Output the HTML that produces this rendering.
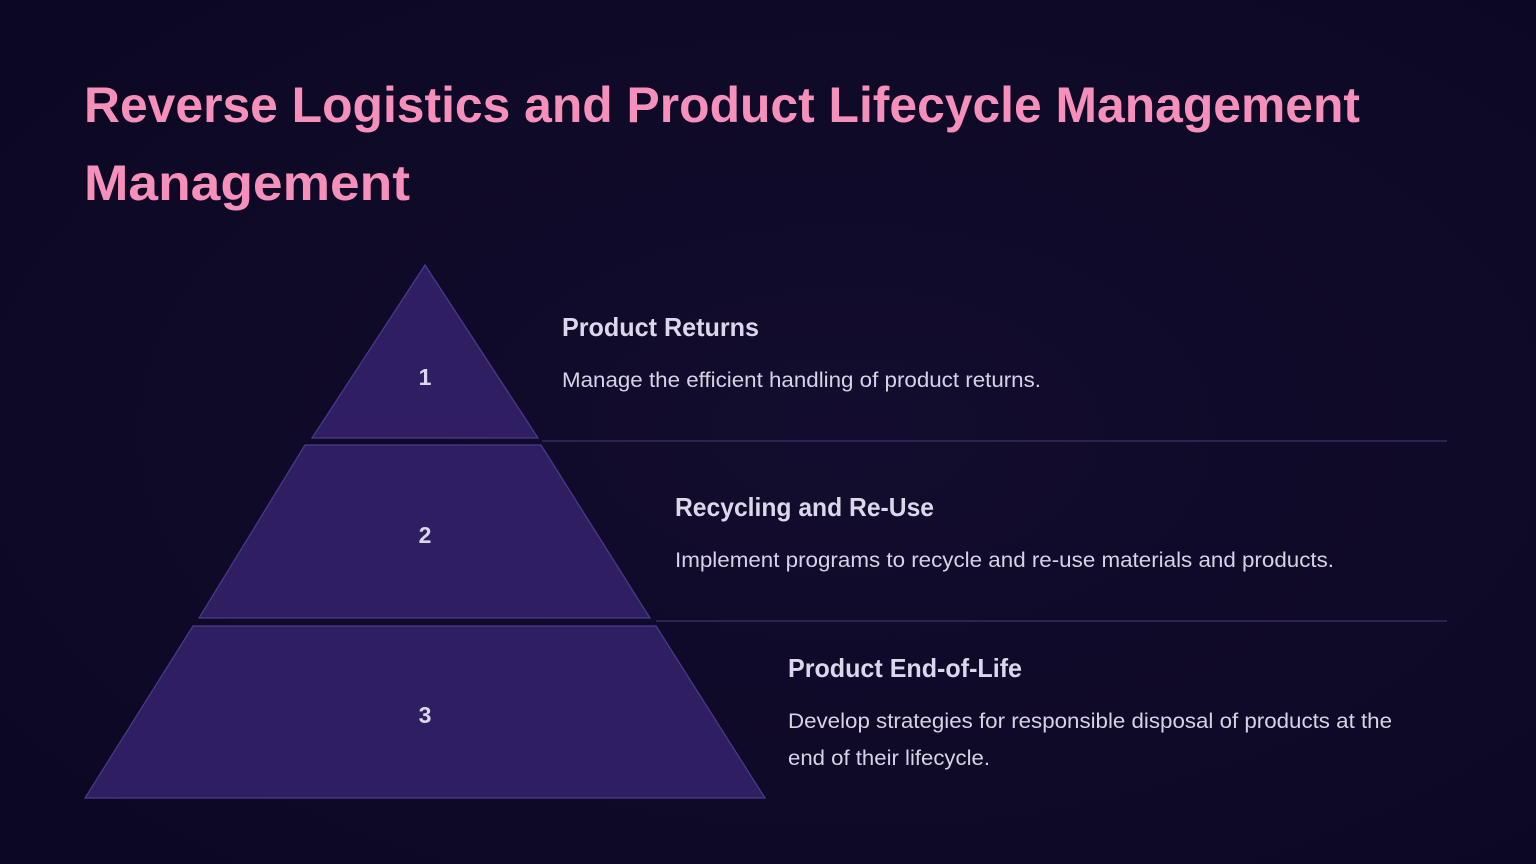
<!DOCTYPE html>
<html><head><meta charset="utf-8"><style>
html,body{margin:0;padding:0;background:#0e0a26;}
svg{display:block}
</style></head><body>
<svg width="1536" height="864" viewBox="0 0 1536 864" xmlns="http://www.w3.org/2000/svg">
<defs><radialGradient id="g" cx="0.55" cy="0.5" r="0.7"><stop offset="0" stop-color="#130c2e"/><stop offset="1" stop-color="#0c0823"/></radialGradient></defs>
<rect width="1536" height="864" fill="url(#g)"/>
<g font-family="Liberation Sans, sans-serif" font-weight="bold" fill="#f78fbb" font-size="50">
<text x="84" y="122" textLength="1276" lengthAdjust="spacingAndGlyphs">Reverse Logistics and Product Lifecycle Management</text>
<text x="84" y="200" textLength="326" lengthAdjust="spacingAndGlyphs">Management</text>
</g>
<g fill="#2f1f62" stroke="#4b3b8c" stroke-width="1.2">
<polygon points="425,265 538,438 312,438"/>
<polygon points="305,445 541,445 650,618 199,618"/>
<polygon points="193,626 656,626 765,798 85,798"/>
</g>
<g stroke="#3d3170" stroke-width="1.2">
<line x1="542" y1="441" x2="1447" y2="441"/>
<line x1="656" y1="621" x2="1447" y2="621"/>
</g>
<g font-family="Liberation Sans, sans-serif" font-weight="bold" fill="#ddd6ec" font-size="23" text-anchor="middle">
<text x="425" y="385">1</text>
<text x="425" y="543">2</text>
<text x="425" y="723">3</text>
</g>
<g font-family="Liberation Sans, sans-serif" font-weight="bold" fill="#ddd6ec" font-size="26">
<text x="562" y="336" textLength="197" lengthAdjust="spacingAndGlyphs">Product Returns</text>
<text x="675" y="516" textLength="259" lengthAdjust="spacingAndGlyphs">Recycling and Re-Use</text>
<text x="788" y="677" textLength="234" lengthAdjust="spacingAndGlyphs">Product End-of-Life</text>
</g>
<g font-family="Liberation Sans, sans-serif" fill="#d8d2e6" font-size="21">
<text x="562" y="387" textLength="479" lengthAdjust="spacingAndGlyphs">Manage the efficient handling of product returns.</text>
<text x="675" y="567" textLength="659" lengthAdjust="spacingAndGlyphs">Implement programs to recycle and re-use materials and products.</text>
<text x="788" y="728" textLength="604" lengthAdjust="spacingAndGlyphs">Develop strategies for responsible disposal of products at the</text>
<text x="788" y="765" textLength="202" lengthAdjust="spacingAndGlyphs">end of their lifecycle.</text>
</g>
</svg>
</body></html>
